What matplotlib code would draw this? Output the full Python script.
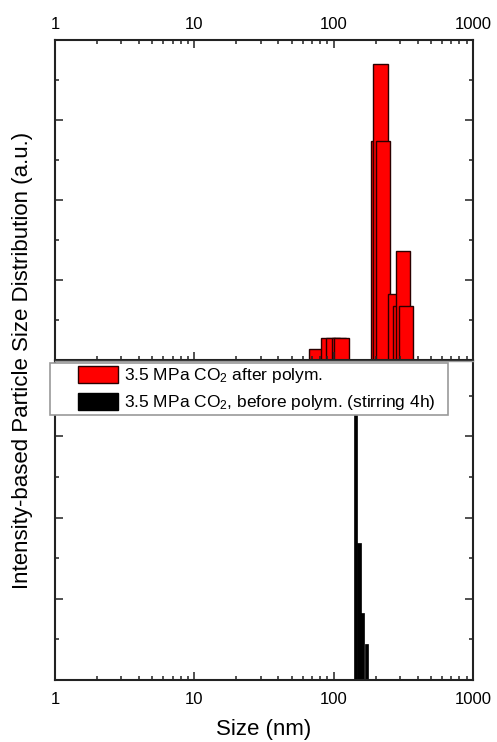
import numpy as np
import matplotlib
matplotlib.use('Agg')
import matplotlib.pyplot as plt
from matplotlib.patches import Patch, Rectangle
from matplotlib.ticker import LogLocator, MultipleLocator, NullFormatter, FixedLocator, FixedFormatter

plt.rcParams['font.family'] = ['Liberation Sans', 'DejaVu Sans']
plt.rcParams['mathtext.fontset'] = 'custom'
plt.rcParams['mathtext.rm'] = 'Liberation Sans'
plt.rcParams['mathtext.it'] = 'Liberation Sans'

# data (bar centres in nm, heights in a.u.)
after_size = [75.3, 90.9, 99.2, 109.0, 113.8, 207.7, 216.9, 226.5, 275.0, 301.7, 315.0, 330.0]
after_int = [0.134, 0.271, 0.271, 0.271, 0.271, 2.741, 3.696, 2.741, 0.821, 0.679, 1.366, 0.679]
before_size = [142.9, 152.0, 159.7, 172.7]
before_int = [3.7, 1.689, 0.820, 0.439]
xticks = [1, 10, 100, 1000]
xticklabels = ['1', '10', '100', '1000']
labels = ['3.5 MPa CO$_2$ after polym.', '3.5 MPa CO$_2$, before polym. (stirring 4h)']

W, H = 497, 742
fig = plt.figure(figsize=(W / 100, H / 100), dpi=100)

def fx(px):
    return px / W

def fy(py):
    return 1 - py / H

ax1 = fig.add_axes([fx(55), fy(360), fx(473) - fx(55), fy(40) - fy(360)])
ax2 = fig.add_axes([fx(55), fy(680), fx(473) - fx(55), fy(361) - fy(680)])

def log_bars(ax, centers, heights, w, **kw):
    c = np.array(centers)
    left = c * 10 ** (-w / 2)
    right = c * 10 ** (w / 2)
    ax.bar(left, heights, width=right - left, align='edge', **kw)

log_bars(ax1, after_size, after_int, 0.1026, color='red', edgecolor='#2a0000', linewidth=1)
log_bars(ax2, before_size, before_int, 0.025, color='black', edgecolor='black', linewidth=0.5)

ax1.set_ylim(0, 4)
ax2.set_ylim(0, 3.93)

for ax in (ax1, ax2):
    ax.set_xscale('log')
    ax.set_xlim(1, 1000)
    ax.xaxis.set_major_locator(FixedLocator(xticks))
    ax.xaxis.set_major_formatter(FixedFormatter(xticklabels))
    ax.xaxis.set_minor_locator(LogLocator(base=10, subs=np.arange(2, 10)))
    ax.xaxis.set_minor_formatter(NullFormatter())
    ax.yaxis.set_major_locator(MultipleLocator(1))
    ax.yaxis.set_minor_locator(MultipleLocator(0.5))
    ax.tick_params(which='both', direction='in', left=True, right=True,
                   labelleft=False, labelsize=12, width=1.1, color='#222222')
    ax.tick_params(which='major', length=5.5)
    ax.tick_params(which='minor', length=3)
    for s in ax.spines.values():
        s.set_linewidth(1.5)
        s.set_color('#222222')

ax1.tick_params(axis='x', which='both', top=True, bottom=True, labeltop=True, labelbottom=False, pad=6)
ax2.tick_params(axis='x', which='both', top=False, bottom=True, labelbottom=True, pad=8.5)
ax2.spines['top'].set_color('#999999')
ax2.spines['top'].set_linewidth(1)

ax2.set_xlabel('Size (nm)', fontsize=16, labelpad=9)
fig.text(fx(23), fy(360), 'Intensity-based Particle Size Distribution (a.u.)',
         rotation=90, ha='center', va='center', fontsize=16)

# legend box overlapping both panels
fig.patches.append(Rectangle((fx(50), fy(415)), fx(448) - fx(50), fy(363) - fy(415),
                             transform=fig.transFigure, facecolor='white',
                             edgecolor='#999999', linewidth=1.2, zorder=3))
handles = [Patch(facecolor='red', edgecolor='#2a0000', linewidth=1),
           Patch(facecolor='black', edgecolor='black')]
fig.legend(handles, labels, loc='upper left', bbox_to_anchor=(fx(77.7), fy(366)),
           frameon=False, borderpad=0, borderaxespad=0, fontsize=12.5,
           handlelength=2.3, handleheight=1.1, handletextpad=0.35, labelspacing=0.45)

fig.savefig('out.png', dpi=100)
